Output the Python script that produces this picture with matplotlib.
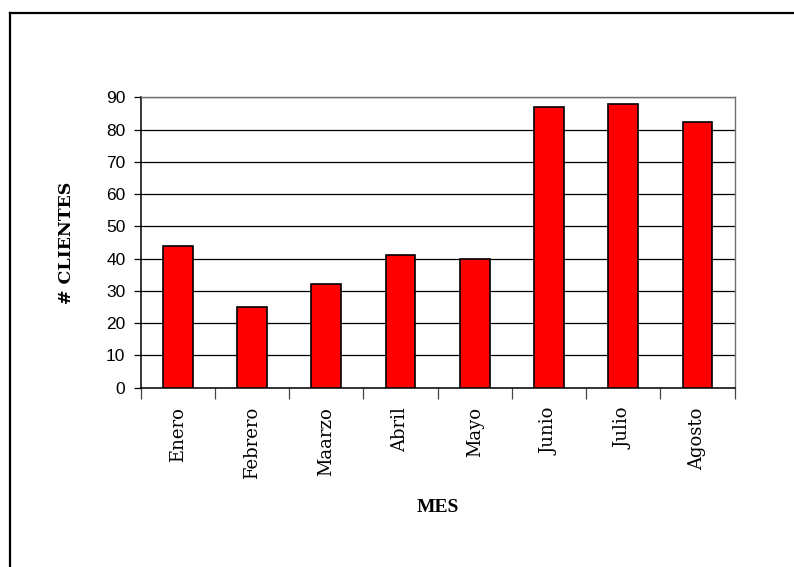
import numpy as np
import matplotlib.pyplot as plt
from matplotlib.lines import Line2D

meses = ["Enero", "Febrero", "Maarzo", "Abril", "Mayo", "Junio", "Julio", "Agosto"]
clientes = [44, 25, 32, 41, 40, 87, 88, 82.5]
y_ticks = [0, 10, 20, 30, 40, 50, 60, 70, 80, 90]

W, H = 794, 567
fig = plt.figure(figsize=(W / 100, H / 100), dpi=100)

# axes box in pixel units -> figure fractions
left, right, top, bottom = 140.7, 734.7, 97.3, 387.7
ax = fig.add_axes([left / W, 1 - bottom / H, (right - left) / W, (bottom - top) / H])

x = np.arange(len(meses))
ax.bar(x, clientes, width=0.4, color="#ff0000", edgecolor="black", linewidth=1.2, zorder=3)

ax.set_xlim(-0.5, len(meses) - 0.5)
ax.set_ylim(0, 90)
ax.set_yticks(y_ticks)
ax.set_yticklabels([str(v) for v in y_ticks], fontfamily="Liberation Sans", fontsize=12.5)
ax.yaxis.grid(True, color="black", linewidth=0.9, zorder=0)
ax.tick_params(axis="y", direction="out", length=5, width=0.9, pad=6, colors="black")

# month names at centres, tick marks at category boundaries
ax.set_xticks(x)
ax.set_xticklabels(meses, rotation=90, va="top", ha="center",
                   fontfamily="DejaVu Serif", fontsize=13)
ax.tick_params(axis="x", which="major", length=0, pad=14)
ax.set_xticks(np.arange(-0.5, len(meses)), minor=True)
ax.tick_params(axis="x", which="minor", direction="out", length=8, width=0.9, color="#444444")

for side in ["left", "bottom"]:
    ax.spines[side].set_color("black")
    ax.spines[side].set_linewidth(1.1)
for side in ["top", "right"]:
    ax.spines[side].set_color("#707070")
    ax.spines[side].set_linewidth(1.0)

fig.text(66.7 / W, 1 - 242.5 / H, "# CLIENTES", rotation=90, ha="center", va="center",
         fontfamily="DejaVu Serif", fontweight="bold", fontsize=12.5)
fig.text(437.7 / W, 1 - 507 / H, "MES", ha="center", va="center",
         fontfamily="Liberation Serif", fontweight="bold", fontsize=14)

# outer frame (only top and left edges fall inside the image)
fig.add_artist(Line2D([10.3 / W, 1.0], [1 - 12.8 / H, 1 - 12.8 / H], color="black", lw=1.6))
fig.add_artist(Line2D([10.3 / W, 10.3 / W], [0, 1 - 12.8 / H], color="black", lw=1.6))

fig.savefig("out.png", dpi=100)
